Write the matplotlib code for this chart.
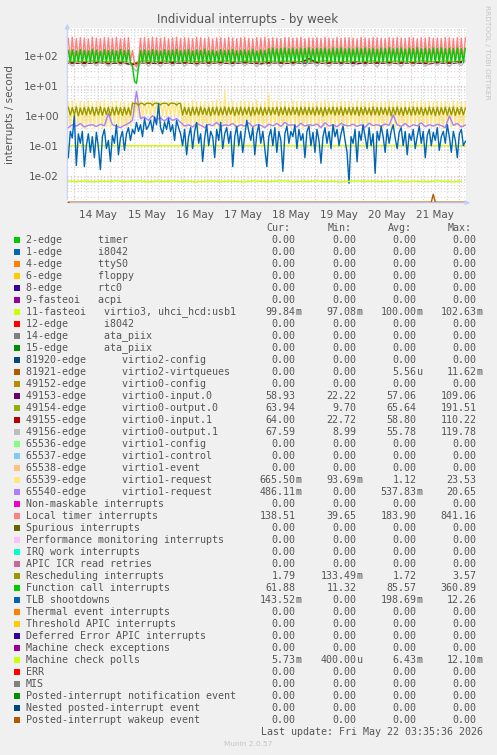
import numpy as np
import matplotlib
matplotlib.use("Agg")
import matplotlib.pyplot as plt
import matplotlib.dates as mdates
from matplotlib.ticker import LogLocator, FuncFormatter, NullFormatter
from matplotlib.patches import Rectangle
from datetime import datetime, timedelta

W, H = 497, 755

def fx(px):
    return px / W

def fy(py):
    return 1 - py / H

# ---- time base (hourly samples from 13 May 21:00) ----
start = datetime(2026, 5, 13, 21, 0)

# ---- series ----
local_timer = [
    380, 66, 410, 64, 370, 68, 400, 65, 390, 70,
    360, 66, 415, 63, 385, 67, 370, 65, 405, 69,
    395, 64, 375, 66, 410, 68, 365, 65, 390, 63,
    400, 67,
    150, 55, 42, 60,
    385, 64, 400, 66, 370, 68, 410, 65, 395, 63,
    380, 67, 405, 64, 365, 66, 390, 69, 415, 65,
    375, 63, 400, 67, 385, 64, 370, 66, 410, 68,
    395, 65, 380, 63, 405, 67, 360, 64, 390, 66,
    400, 69, 375, 65, 410, 63, 385, 67, 370, 64,
    395, 66, 405, 68, 380, 65, 365, 63, 400, 67,
    390, 64, 410, 66, 375, 68, 395, 65, 385, 63,
    370, 67, 405, 64, 400, 66, 380, 69, 390, 65,
    415, 63, 365, 67, 395, 64, 385, 66, 400, 68,
    375, 65, 410, 63, 390, 67, 370, 64, 405, 66,
    380, 69, 395, 65, 400, 63, 385, 67, 365, 64,
    410, 66, 390, 68, 375, 65, 405, 63, 395, 67,
    380, 64, 370, 66, 400, 69, 385, 65, 410, 63,
    390, 67, 375, 64, 405, 66, 395, 68, 365, 65,
    400, 63, 385, 67, 410, 64, 380, 66, 390, 69,
    375, 65, 405, 63, 395, 67, 370, 64, 400, 66,
    385, 68, 390,
]

function_call = [
    150, 60, 158, 58, 145, 61, 162, 59, 152, 62,
    148, 60, 165, 58, 155, 61, 142, 59, 160, 62,
    150, 60, 157, 58, 146, 61, 163, 59, 151, 60,
    155, 58,
    45, 14, 12, 40,
    150, 60, 158, 59, 147, 61, 162, 58, 153, 60,
    145, 62, 160, 59, 151, 61, 156, 58, 164, 60,
    149, 59, 155, 61, 161, 58, 146, 60, 158, 62,
    152, 59, 165, 61, 148, 58, 157, 60, 143, 61,
    160, 59, 151, 62, 156, 58, 163, 60, 147, 61,
    154, 59, 159, 60, 150, 58, 166, 61, 145, 60,
    158, 59, 152,
    60, 175, 59, 182, 61, 170, 58, 178, 60, 185,
    62, 172, 59, 180, 61, 168, 58, 183, 60, 176,
    59, 186, 61, 171, 58, 179, 60, 174, 62, 184,
    59, 169, 61, 181, 58, 177, 60, 187, 59, 173,
    61, 180, 58, 170, 60, 183, 62, 176, 59, 185,
    61, 172, 58, 179, 60, 168, 59, 182, 61, 175,
    58, 186, 60, 171, 62, 178, 59, 184, 61, 169,
    58, 181, 60, 176, 59, 187, 61, 173, 58, 180,
    60, 170, 62, 183, 59, 177, 61, 185, 58, 172,
    60, 179, 59, 174, 61, 182, 58, 171, 60, 176,
]

rescheduling = [
    1.9, 1.05, 1.85, 1.1, 1.95, 1.0, 1.8, 1.08, 1.9, 1.05,
    1.88, 1.12, 1.92, 1.02, 1.85, 1.07, 1.95, 1.04, 1.82, 1.1,
    1.9, 1.0, 1.87, 1.06, 1.93, 1.09, 1.84, 1.03, 1.9, 1.08,
    1.86, 1.05,
    2.6, 2.55, 2.6, 2.2, 2.62, 2.58, 2.25, 2.6, 2.57, 2.6,
    2.2, 2.6, 2.62, 2.56, 2.3, 2.6, 2.58, 2.6, 2.2, 2.61,
    2.6, 2.57, 2.25, 2.6, 2.55,
    1.05, 1.9, 1.1, 1.85, 1.02, 1.93, 1.08, 1.88, 1.04, 1.95,
    1.1, 1.82, 1.06, 1.9, 1.0, 1.87, 1.09, 1.92, 1.03, 1.85,
    1.07, 1.95, 1.05, 1.88, 1.12, 1.9, 1.02, 1.84, 1.08, 1.93,
    1.04, 1.86, 1.1, 1.91, 1.0, 1.89, 1.06, 1.83, 1.09, 1.94,
    1.03, 1.87, 1.07, 1.9, 1.05, 1.85, 1.11, 1.92, 1.01, 1.88,
    1.08, 1.95, 1.04, 1.84, 1.06, 1.9, 1.1, 1.86, 1.02, 1.93,
    1.07, 1.89, 1.05, 1.91, 1.09, 1.83, 1.03, 1.94, 1.08, 1.87,
    1.0, 1.9, 1.06, 1.85, 1.12, 1.92, 1.04, 1.88, 1.07, 1.95,
    1.02, 1.84, 1.1, 1.9, 1.05, 1.86, 1.08, 1.93, 1.01, 1.89,
    1.06, 1.91, 1.09, 1.83, 1.04, 1.94, 1.07, 1.87, 1.03, 1.9,
    1.11, 1.85, 1.05, 1.92, 1.0, 1.88, 1.08, 1.95, 1.06, 1.84,
    1.02, 1.9, 1.1, 1.86, 1.04, 1.93, 1.07, 1.89, 1.09, 1.91,
    1.03, 1.83, 1.06, 1.94, 1.08, 1.87, 1.01, 1.9, 1.05, 1.85,
    1.1, 1.92, 1.04, 1.88, 1.07, 1.95, 1.02, 1.84, 1.09, 1.9,
    1.06, 1.79,
]

virtio1_req_a = [
    2.8, 0.42, 3.1, 0.38, 2.6, 0.45, 3.0, 0.4, 2.9, 0.36,
    3.2, 0.44, 2.7, 0.39, 3.0, 0.41, 2.8, 0.37, 3.3, 0.43,
    2.6, 0.4, 2.9, 0.46, 3.1, 0.38, 2.7, 0.42, 3.0, 0.39,
    2.8, 0.44,
    3.0, 0.95, 2.9, 1.0, 3.1, 0.9, 2.8, 1.05, 3.0, 0.92,
    3.2, 0.98, 2.9, 0.9, 3.0, 1.02, 2.8, 0.94, 3.1, 0.96,
    2.9, 1.0, 3.0, 0.93, 2.8,
    0.41, 3.0, 0.38, 2.7, 0.44, 3.2, 0.4, 2.9, 0.36, 2.8,
    0.43, 3.1, 0.39, 2.6, 0.45, 3.0, 0.41, 3.3, 0.37, 2.9,
    0.42, 6.6, 0.4, 2.8, 0.46, 3.0, 0.38, 2.7, 0.43, 3.1,
    0.39, 2.9, 0.44, 3.0, 0.41, 2.8, 0.37, 3.2, 0.42, 2.7,
    0.4, 3.0, 0.45, 4.9, 0.38, 2.9, 0.43, 3.1, 0.36, 2.8,
    0.41, 3.0, 0.44, 2.6, 0.39, 3.2, 0.42, 2.9, 0.4, 3.0,
    0.37, 2.8, 0.43, 3.1, 0.41, 2.7, 0.45, 3.0, 0.38, 2.9,
    0.42, 3.3, 0.4, 2.8, 0.44, 3.0, 0.36, 2.7, 0.41, 3.1,
    0.43, 2.9, 0.39, 3.0, 0.42, 2.6, 0.4, 3.2, 0.45, 2.8,
    0.38, 3.0, 0.41, 2.9, 0.43, 3.1, 0.37, 2.7, 0.42, 3.0,
    0.4, 2.8, 0.44, 3.2, 0.39, 2.9, 0.41, 3.0, 0.36, 2.7,
    0.43, 3.1, 0.4, 2.8, 0.42, 3.0, 0.45, 2.9, 0.38, 3.3,
    0.41, 2.7, 0.44, 3.0, 0.39, 2.8, 0.42, 3.1, 0.4, 2.9,
    0.37, 3.0, 0.43, 2.6, 0.41, 3.2, 0.44, 2.8, 0.39, 3.0,
    0.42, 2.9,
]

tlb = [
    0.04, 0.3, 0.18, 1.0, 0.022, 0.25, 0.12, 0.3, 0.02, 0.1,
    0.25, 0.06, 0.2, 0.04, 0.28, 0.09, 0.016, 0.2, 0.35, 0.08,
    0.15, 0.03, 0.22, 0.12, 0.5, 0.05, 0.18, 0.3, 0.07, 0.25,
    0.4, 0.15, 0.35, 0.25, 0.6, 0.3, 0.5, 0.2, 0.8, 0.35,
    0.45, 0.7, 0.3, 0.9, 0.5, 2.5, 0.4, 0.25, 0.6, 0.35,
    0.8, 0.3, 0.5, 0.15, 0.7, 0.4, 0.25, 0.1, 0.35, 0.05,
    0.2, 0.4, 0.08, 0.3, 0.6, 0.12, 0.25, 0.03, 0.18, 0.5,
    0.1, 0.3, 0.2, 0.04, 0.35, 0.15, 0.6, 0.08, 0.25, 0.4,
    0.12, 0.3, 0.02, 0.2, 0.45, 0.1, 0.3, 0.06, 0.22, 0.7,
    0.3, 0.15, 0.4, 0.05, 0.25, 0.5, 0.12, 0.3, 0.08, 0.02,
    0.2, 0.35, 0.1, 0.4, 0.06, 0.3, 0.15, 0.014, 0.25, 0.45,
    0.12, 0.3, 0.2, 0.5, 0.08, 0.35, 0.15, 0.25, 0.04, 0.3,
    0.45, 0.1, 0.28, 0.06, 0.35, 0.15, 0.026, 0.2, 0.4, 0.12,
    0.3, 0.08, 0.5, 0.2, 0.35, 0.1, 0.25, 0.45, 0.15, 0.06,
    0.0056, 0.2, 0.12, 0.35, 0.029, 0.3, 0.15, 0.5, 0.2, 0.08,
    0.4, 0.1, 0.25, 0.012, 0.3, 0.15, 0.45, 0.2, 0.06, 0.35,
    0.12, 0.3, 0.5, 0.18, 0.08, 0.28, 0.4, 0.1, 0.3, 0.05,
    0.25, 0.15, 0.35, 0.08, 0.2, 0.45, 0.12, 0.3, 0.04, 0.22,
    0.35, 0.1, 0.28, 0.15, 0.4, 0.07, 0.2, 0.3, 0.12, 0.5,
    0.2, 0.06, 0.3, 0.15, 0.04, 0.25, 0.35, 0.1, 0.14,
]

# two-hourly samples
virtio1_req_b = [
    0.4, 0.5, 0.45, 0.55, 0.42, 0.48, 0.5, 0.44, 0.52, 0.46,
    1.2, 0.5, 0.45, 0.4, 0.48, 0.55, 0.7, 6.5, 0.8, 0.9,
    0.7, 1.0, 0.75, 0.85, 0.65, 0.9, 0.7, 0.8, 0.6, 0.45,
    0.5, 0.42, 0.55, 0.48, 0.4, 0.52, 0.46, 0.6, 0.44, 0.5,
    0.47, 0.55, 0.42, 0.5, 0.45, 0.58, 0.43, 0.5, 0.48, 0.4,
    0.52, 0.46, 0.55, 0.44, 0.6, 0.48, 0.5, 0.42, 0.56, 0.45,
    0.5, 0.47, 0.53, 0.4, 0.58, 0.45, 0.5, 0.43, 0.55, 0.48,
    0.46, 0.52, 0.44, 0.5, 0.41, 0.56, 0.47, 0.5, 0.45, 0.53,
    0.48, 1.05, 0.5, 0.44, 0.55, 0.42, 0.5, 0.46, 0.58, 0.43,
    0.5, 0.45, 0.52, 0.47, 0.4, 0.98, 0.48, 0.55, 0.42, 0.49,
]

virtio0_output1 = [
    60, 45, 62, 58, 43, 61, 59, 46, 63, 57,
    44, 60, 62, 47, 58, 61, 42, 30, 58, 60,
    45, 62, 59, 43, 61, 58, 46, 60, 63, 44,
    59, 61, 45, 57, 62, 43, 60, 58, 47, 61,
    59, 44, 62, 60, 46, 58, 61, 43, 63, 57,
    45, 60, 62, 42, 59, 61, 47, 58, 60, 44,
    62, 59, 45, 61, 57, 43, 60, 62, 46, 58,
    61, 44, 59, 63, 45, 60, 58, 42, 62, 61,
    46, 59, 60, 43, 62, 58, 45, 61, 63, 44,
    58, 60, 47, 62, 59, 43, 61, 57, 46, 68,
]

# four-hourly samples
virtio0_input0 = [
    56, 58, 55, 57, 59, 54, 57, 56, 50, 58,
    57, 55, 59, 56, 58, 57, 54, 58, 56, 59,
    55, 57, 58, 56, 54, 57, 59, 55, 58, 56,
    57, 59, 55, 58, 56, 57, 54, 58, 57, 56,
    59, 55, 57, 58, 56, 54, 58, 57, 56, 59,
]
virtio0_output0 = [
    64, 66, 63, 67, 65, 62, 66, 64, 55, 65,
    67, 63, 66, 64, 65, 68, 63, 66, 64, 65,
    67, 62, 66, 65, 63, 67, 64, 66, 65, 63,
    66, 64, 67, 65, 62, 66, 64, 65, 67, 63,
    65, 66, 64, 62, 67, 65, 63, 66, 64, 64,
]
virtio0_input1 = [
    58, 56, 59, 57, 60, 55, 58, 57, 52, 59,
    57, 58, 56, 60, 57, 59, 55, 58, 57, 59,
    56, 58, 60, 57, 55, 59, 58, 56, 57, 60,
    80, 58, 56, 59, 57, 58, 60, 55, 57, 59,
    58, 56, 59, 57, 58, 55, 60, 57, 58, 64,
]
mc_polls = [
    0.0066, 0.0063, 0.0067, 0.0062, 0.0066, 0.0064, 0.0068, 0.0063, 0.0065, 0.0067,
    0.0062, 0.0066, 0.0064, 0.0067, 0.0063, 0.0066, 0.0062, 0.0065, 0.0067, 0.0063,
    0.0066, 0.0064, 0.0062, 0.0067, 0.0065, 0.0063, 0.0066, 0.0068, 0.0062, 0.0065,
    0.0064, 0.0067, 0.0063, 0.0066, 0.0062, 0.0065, 0.0067, 0.0064, 0.0066, 0.0063,
    0.0065, 0.0067, 0.0062, 0.0066, 0.0064, 0.0063, 0.0067, 0.0065, 0.0062, 0.0066,
]

# sparse series (hour, value)
fasteoi11_h = [0, 198]
fasteoi11 = [0.1, 0.0998]
virtqueues_h = [0, 181, 182, 183, 198]
virtqueues = [0, 0, 0.0024, 0, 0]
wakeup_h = [0, 198]
wakeup = [0, 0]

day_labels = ["14 May", "15 May", "16 May", "17 May", "18 May", "19 May", "20 May", "21 May"]

# ---- legend table ----
leg_labels = [
    "2-edge      timer", "1-edge      i8042", "4-edge      ttyS0", "6-edge      floppy",
    "8-edge      rtc0", "9-fasteoi   acpi", "11-fasteoi   virtio3, uhci_hcd:usb1",
    "12-edge      i8042", "14-edge      ata_piix", "15-edge      ata_piix",
    "81920-edge      virtio2-config", "81921-edge      virtio2-virtqueues",
    "49152-edge      virtio0-config", "49153-edge      virtio0-input.0",
    "49154-edge      virtio0-output.0", "49155-edge      virtio0-input.1",
    "49156-edge      virtio0-output.1", "65536-edge      virtio1-config",
    "65537-edge      virtio1-control", "65538-edge      virtio1-event",
    "65539-edge      virtio1-request", "65540-edge      virtio1-request",
    "Non-maskable interrupts", "Local timer interrupts", "Spurious interrupts",
    "Performance monitoring interrupts", "IRQ work interrupts", "APIC ICR read retries",
    "Rescheduling interrupts", "Function call interrupts", "TLB shootdowns",
    "Thermal event interrupts", "Threshold APIC interrupts", "Deferred Error APIC interrupts",
    "Machine check exceptions", "Machine check polls", "ERR", "MIS",
    "Posted-interrupt notification event", "Nested posted-interrupt event",
    "Posted-interrupt wakeup event",
]
leg_colors = [
    "#00CC00", "#0066B3", "#FF8000", "#FFCC00", "#330099", "#990099", "#CCFF00",
    "#FF0000", "#808080", "#008F00", "#00487D", "#B35A00", "#B38F00", "#6B006B",
    "#8FB300", "#B30000", "#BEBEBE", "#80FF80", "#80C9FF", "#FFC080", "#FFE680",
    "#AA80FF", "#EE00CC", "#FF8080", "#666600", "#FFBFFF", "#00FFCC", "#CC6699",
    "#999900", "#00CC00", "#0066B3", "#FF8000", "#FFCC00", "#330099", "#990099",
    "#CCFF00", "#FF0000", "#808080", "#008F00", "#00487D", "#B35A00",
]
Z = "0.00"
cur_vals = [Z, Z, Z, Z, Z, Z, "99.84m", Z, Z, Z, Z, Z, Z, "58.93", "63.94", "64.00",
            "67.59", Z, Z, Z, "665.50m", "486.11m", Z, "138.51", Z, Z, Z, Z, "1.79",
            "61.88", "143.52m", Z, Z, Z, Z, "5.73m", Z, Z, Z, Z, Z]
min_vals = [Z, Z, Z, Z, Z, Z, "97.08m", Z, Z, Z, Z, Z, Z, "22.22", "9.70", "22.72",
            "8.99", Z, Z, Z, "93.69m", Z, Z, "39.65", Z, Z, Z, Z, "133.49m",
            "11.32", Z, Z, Z, Z, Z, "400.00u", Z, Z, Z, Z, Z]
avg_vals = [Z, Z, Z, Z, Z, Z, "100.00m", Z, Z, Z, Z, "5.56u", Z, "57.06", "65.64", "58.80",
            "55.78", Z, Z, Z, "1.12", "537.83m", Z, "183.90", Z, Z, Z, Z, "1.72",
            "85.57", "198.69m", Z, Z, Z, Z, "6.43m", Z, Z, Z, Z, Z]
max_vals = [Z, Z, Z, Z, Z, Z, "102.63m", Z, Z, Z, Z, "11.62m", Z, "109.06", "191.51", "110.22",
            "119.78", Z, Z, Z, "23.53", "20.65", Z, "841.16", Z, Z, Z, Z, "3.57",
            "360.89", "12.26", Z, Z, Z, Z, "12.10m", Z, Z, Z, Z, Z]

# ---- figure ----
TXT = "#555555"
fig = plt.figure(figsize=(W / 100, H / 100), dpi=100, facecolor="#F0F0F0")
ax_l, ax_r, ax_t, ax_b = 67.3, 465.7, 28.0, 202.7
ax = fig.add_axes([fx(ax_l), fy(ax_b), (ax_r - ax_l) / W, (ax_b - ax_t) / H])
ax.set_facecolor("white")
for s in ax.spines.values():
    s.set_visible(False)

t0 = mdates.date2num(start)

def tx(hours):
    return t0 + np.asarray(hours, dtype=float) / 24.0

ylo = 10 ** (2 - (ax_b - 55.7) / 30)
yhi = 10 ** (2 + (55.7 - ax_t) / 30)

h1 = np.arange(len(local_timer))
h2 = np.arange(len(virtio1_req_b)) * 2
h4 = np.arange(len(virtio0_input0)) * 4

def clip(v):
    return np.maximum(np.asarray(v, dtype=float), ylo * 1.03)

lw = 1.0
series = [
    (fasteoi11_h, fasteoi11, "#CCFF00"),
    (virtqueues_h, virtqueues, "#B35A00"),
    (h4, virtio0_input0, "#6B006B"),
    (h4, virtio0_output0, "#8FB300"),
    (h4, virtio0_input1, "#B30000"),
    (h2, virtio0_output1, "#BEBEBE"),
    (h1, virtio1_req_a, "#FFE680"),
    (h2, virtio1_req_b, "#AA80FF"),
    (h1, local_timer, "#FF8080"),
    (h1, rescheduling, "#999900"),
    (h1, function_call, "#00CC00"),
    (h1, tlb, "#0066B3"),
    (h4, mc_polls, "#CCFF00"),
    (wakeup_h, wakeup, "#B35A00"),
]
for hh, vv, c in series:
    ax.plot(tx(hh), clip(vv), color=c, lw=lw, zorder=3)

ax.set_yscale("log")
ax.set_ylim(ylo, yhi)
ax.set_xlim(tx(-0.5), tx(198.17))

# grid
ax.yaxis.set_major_locator(LogLocator(base=10, numticks=20))
ax.yaxis.set_minor_locator(LogLocator(base=10, subs=np.arange(2, 10), numticks=20))
ax.yaxis.set_major_formatter(FuncFormatter(lambda v, p: "%.0e" % v))
ax.yaxis.set_minor_formatter(NullFormatter())
ax.grid(True, which="major", axis="y", color="#ecb8b8", lw=0.8, ls=(0, (1, 2)), zorder=1)
ax.grid(True, which="minor", axis="y", color="#d6d6d6", lw=0.8, ls=(0, (1, 2)), zorder=1)
for d in range(9):
    mid = datetime(2026, 5, 14) + timedelta(days=d)
    ax.axvline(mdates.date2num(mid), color="#ecb8b8", lw=0.8, ls=(0, (1, 2)), zorder=1)
    for hr in (6, 12, 18):
        ax.axvline(mdates.date2num(mid + timedelta(hours=hr)), color="#d6d6d6",
                   lw=0.8, ls=(0, (1, 2)), zorder=1)

noon = [mdates.date2num(datetime(2026, 5, 14, 12) + timedelta(days=i)) for i in range(len(day_labels))]
ax.set_xticks(noon)
ax.set_xticklabels(day_labels)
ax.tick_params(axis="both", which="both", length=0, colors=TXT, labelsize=7.5)
ax.tick_params(axis="y", pad=6)
ax.tick_params(axis="x", pad=5)

# axis arrows
arr = "#c6cef5"
ax.annotate("", xy=(fx(ax_l), fy(21)), xytext=(fx(ax_l), fy(ax_b)), xycoords="figure fraction",
            arrowprops=dict(arrowstyle="-|>", color=arr, lw=0.8, mutation_scale=7))
ax.annotate("", xy=(fx(473), fy(ax_b)), xytext=(fx(ax_l), fy(ax_b)), xycoords="figure fraction",
            arrowprops=dict(arrowstyle="-|>", color=arr, lw=0.8, mutation_scale=7))

# texts
fig.text(fx(248), fy(19), "Individual interrupts - by week", ha="center", va="center",
         fontsize=8.5, color=TXT)
fig.text(fx(10.5), fy(114.5), "interrupts / second", ha="center", va="center",
         rotation=90, fontsize=7.5, color=TXT)
fig.text(fx(487.5), fy(5), "RRDTOOL / TOBI OETIKER", ha="center", va="top",
         rotation=270, fontsize=5.3, color="#c4c4c4")

mono = "DejaVu Sans Mono"
FS = 7.2
row0, dy = 239.7, 12.0
col_end = [295.7, 356.7, 416.7, 476.7]
for name, xe in zip(["Cur:", "Min:", "Avg:", "Max:"], col_end):
    fig.text(fx(xe - 5), fy(row0 - dy), name, ha="right", va="center",
             family=mono, fontsize=FS, color=TXT)

for i, lab in enumerate(leg_labels):
    yc = row0 + i * dy
    fig.add_artist(Rectangle((fx(14), fy(yc + 3)), 6 / W, 6 / H, transform=fig.transFigure,
                             facecolor=leg_colors[i], edgecolor="none"))
    fig.text(fx(26), fy(yc), lab, ha="left", va="center", family=mono, fontsize=FS, color=TXT)
    for vals, xe in zip([cur_vals, min_vals, avg_vals, max_vals], col_end):
        s = vals[i]
        suf = ""
        if s[-1].isalpha():
            s, suf = s[:-1], s[-1]
        fig.text(fx(xe), fy(yc), s, ha="right", va="center", family=mono, fontsize=FS, color=TXT)
        if suf:
            fig.text(fx(xe), fy(yc), suf, ha="left", va="center", family=mono, fontsize=FS, color=TXT)

fig.text(fx(482.7), fy(731.7), "Last update: Fri May 22 03:35:36 2026", ha="right", va="center",
         family=mono, fontsize=FS, color=TXT)
fig.text(fx(248), fy(744.5), "Munin 2.0.57", ha="center", va="center", fontsize=5.3, color="#c4c4c4")

fig.savefig("out.png", dpi=100, facecolor=fig.get_facecolor())
